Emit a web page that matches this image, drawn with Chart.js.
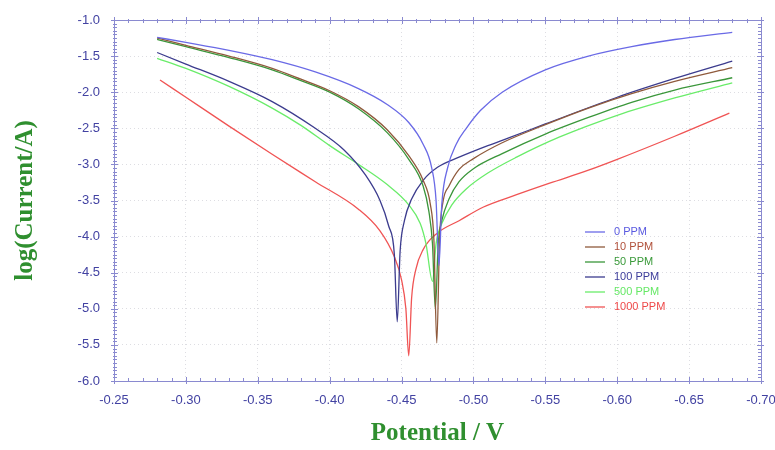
<!DOCTYPE html>
<html><head><meta charset="utf-8">
<script src="https://cdn.jsdelivr.net/npm/chart.js@4/dist/chart.umd.min.js"></script>
<style>html,body{margin:0;padding:0;background:#fff;}</style>
</head><body>
<canvas id="c" width="775" height="450"></canvas>
<script>
// ---- data ----
const seriesLabels = ['0 PPM', '10 PPM', '50 PPM', '100 PPM', '500 PPM', '1000 PPM'];

const potential0 = [-0.28,-0.30,-0.33,-0.36,-0.39,-0.42,-0.44,-0.455,-0.465,-0.471,-0.474,-0.476,-0.478,-0.482,-0.488,-0.495,-0.505,-0.52,-0.55,-0.58,-0.61,-0.64,-0.68];
const logI0     = [-1.24,-1.31,-1.42,-1.55,-1.72,-1.95,-2.17,-2.42,-2.72,-3.05,-3.5,-4.4,-3.55,-3.05,-2.72,-2.5,-2.25,-2.0,-1.69,-1.5,-1.37,-1.27,-1.17];

const potential10 = [-0.28,-0.30,-0.33,-0.36,-0.38,-0.40,-0.42,-0.44,-0.455,-0.465,-0.470,-0.4725,-0.4745,-0.4765,-0.479,-0.483,-0.49,-0.50,-0.52,-0.55,-0.58,-0.61,-0.64,-0.68];
const logI10     = [-1.25,-1.35,-1.50,-1.67,-1.82,-1.98,-2.2,-2.52,-2.88,-3.22,-3.55,-4.05,-5.47,-4.0,-3.5,-3.3,-3.07,-2.92,-2.7,-2.45,-2.22,-2.02,-1.85,-1.66];

const potential50 = [-0.28,-0.30,-0.33,-0.36,-0.38,-0.40,-0.42,-0.44,-0.455,-0.465,-0.469,-0.4715,-0.4735,-0.4755,-0.478,-0.483,-0.49,-0.50,-0.52,-0.55,-0.58,-0.61,-0.64,-0.68];
const logI50     = [-1.27,-1.37,-1.52,-1.69,-1.84,-2.0,-2.23,-2.56,-2.93,-3.3,-3.65,-4.1,-5.0,-4.1,-3.78,-3.48,-3.24,-3.06,-2.85,-2.58,-2.35,-2.14,-1.97,-1.80];

const potential100 = [-0.28,-0.30,-0.33,-0.36,-0.39,-0.41,-0.425,-0.435,-0.441,-0.445,-0.447,-0.449,-0.452,-0.457,-0.465,-0.475,-0.49,-0.51,-0.525,-0.55,-0.60,-0.64,-0.68];
const logI100     = [-1.45,-1.61,-1.85,-2.13,-2.5,-2.8,-3.15,-3.5,-3.85,-4.25,-5.18,-4.2,-3.78,-3.48,-3.22,-3.04,-2.9,-2.74,-2.63,-2.44,-2.07,-1.81,-1.57];

const potential500 = [-0.28,-0.30,-0.33,-0.36,-0.38,-0.40,-0.42,-0.44,-0.455,-0.463,-0.467,-0.4715,-0.474,-0.478,-0.485,-0.495,-0.51,-0.53,-0.56,-0.60,-0.64,-0.68];
const logI500     = [-1.53,-1.67,-1.92,-2.22,-2.46,-2.74,-3.0,-3.28,-3.56,-3.82,-4.1,-4.62,-4.1,-3.82,-3.56,-3.34,-3.12,-2.9,-2.62,-2.32,-2.08,-1.87];

const potential1000 = [-0.282,-0.30,-0.33,-0.36,-0.39,-0.42,-0.435,-0.445,-0.45,-0.453,-0.455,-0.457,-0.46,-0.465,-0.475,-0.49,-0.507,-0.53,-0.553,-0.58,-0.60,-0.64,-0.678];
const logI1000     = [-1.83,-2.07,-2.47,-2.86,-3.24,-3.62,-3.92,-4.28,-4.6,-5.0,-5.65,-4.85,-4.45,-4.18,-3.95,-3.78,-3.59,-3.42,-3.26,-3.08,-2.93,-2.61,-2.29];

const xTickValues = [-0.25,-0.30,-0.35,-0.40,-0.45,-0.50,-0.55,-0.60,-0.65,-0.70];
const yTickValues = [-1.0,-1.5,-2.0,-2.5,-3.0,-3.5,-4.0,-4.5,-5.0,-5.5,-6.0];

// ---- styles ----
const seriesColors = ['#6a6ae6', '#8f5a3c', '#3a963a', '#3c3c8e', '#6aec6a', '#f05454'];
const legendTextColors = ['#5a5ae0', '#b0503a', '#3a9a3a', '#3c3c9a', '#66e866', '#ee4848'];
const axisColor = '#8a8ad0';
const tickColor = '#4242a2';
const titleColor = '#2f8f2f';

const xs = [potential0, potential10, potential50, potential100, potential500, potential1000];
const ys = [logI0, logI10, logI50, logI100, logI500, logI1000];

const datasets = seriesLabels.map((lab, i) => ({
  label: lab,
  data: xs[i].map((v, j) => ({x: v, y: ys[i][j]})),
  borderColor: seriesColors[i],
  backgroundColor: seriesColors[i],
  borderWidth: 1.3,
  pointRadius: 0,
  showLine: true,
  cubicInterpolationMode: 'monotone',
  fill: false
}));

const framePlugin = {
  id: 'frame',
  afterDatasetsDraw(chart) {
    const {ctx, chartArea: a, scales: {x, y}} = chart;
    ctx.save();
    ctx.strokeStyle = axisColor;
    ctx.lineWidth = 1;
    ctx.strokeRect(Math.round(a.left) + 0.5, Math.round(a.top) + 0.5, Math.round(a.right - a.left), Math.round(a.bottom - a.top));
    ctx.beginPath();
    for (let k = 0; k <= 45; k++) {
      const px = Math.round(x.getPixelForValue(-0.25 - k * 0.01)) + 0.5;
      const major = k % 5 === 0;
      const out = major ? 3 : 1, inn = major ? 4 : 3;
      ctx.moveTo(px, a.bottom + out); ctx.lineTo(px, a.bottom - inn);
      ctx.moveTo(px, a.top - out); ctx.lineTo(px, a.top + inn);
    }
    for (let k = 0; k <= 100; k++) {
      const py = Math.round(y.getPixelForValue(-1 - k * 0.05)) + 0.5;
      const major = k % 10 === 0;
      const out = major ? 3 : 1, inn = major ? 4 : 3;
      ctx.moveTo(a.left - out, py); ctx.lineTo(a.left + inn, py);
      ctx.moveTo(a.right + out, py); ctx.lineTo(a.right - inn, py);
    }
    ctx.stroke();
    // legend
    ctx.font = '11px "Liberation Sans", Arial, sans-serif';
    ctx.textBaseline = 'middle';
    ctx.textAlign = 'left';
    chart.data.datasets.forEach((ds, i) => {
      const ly = a.top + 212 + i * 15;
      const lx = a.left + 471;
      ctx.strokeStyle = ds.borderColor;
      ctx.lineWidth = 1.3;
      ctx.beginPath(); ctx.moveTo(lx, ly); ctx.lineTo(lx + 20, ly); ctx.stroke();
      ctx.fillStyle = legendTextColors[i];
      ctx.fillText(ds.label, lx + 29, ly);
    });
    ctx.restore();
  }
};

new Chart(document.getElementById('c'), {
  type: 'scatter',
  data: {datasets},
  options: {
    responsive: false,
    animation: false,
    devicePixelRatio: 1,
    layout: {padding: {top: 20, right: 14, left: 0, bottom: 0}, autoPadding: false},
    plugins: {legend: {display: false}, tooltip: {enabled: false}},
    scales: {
      x: {
        type: 'linear', reverse: true, min: -0.70, max: -0.25,
        afterBuildTicks: s => { s.ticks = xTickValues.map(v => ({value: v})); },
        afterFit: s => { s.height = 69; s.paddingLeft = 0; s.paddingRight = 0; },
        grid: {color: 'rgba(120,120,140,0.25)', drawTicks: false, lineWidth: 1},
        border: {display: false, dash: [1, 3]},
        ticks: {color: tickColor, padding: 12, maxRotation: 0, font: {size: 13, family: '"Liberation Sans", Arial, sans-serif'},
          callback: v => Number(v).toFixed(2)},
        title: {display: true, text: 'Potential / V', color: titleColor, padding: {top: 1, bottom: 1},
          font: {size: 25, weight: 'bold', family: '"Liberation Serif", "Times New Roman", serif'}}
      },
      y: {
        type: 'linear', min: -6.0, max: -1.0,
        afterBuildTicks: s => { s.ticks = yTickValues.map(v => ({value: v})); },
        afterFit: s => { s.width = 114; s.paddingTop = 0; s.paddingBottom = 0; },
        grid: {color: 'rgba(120,120,140,0.25)', drawTicks: false, lineWidth: 1},
        border: {display: false, dash: [1, 3]},
        ticks: {color: tickColor, padding: 14, font: {size: 13, family: '"Liberation Sans", Arial, sans-serif'},
          callback: v => Number(v).toFixed(1)},
        title: {display: true, text: 'log(Current/A)', color: titleColor, padding: {top: 11, bottom: 2},
          font: {size: 25, weight: 'bold', family: '"Liberation Serif", "Times New Roman", serif'}}
      }
    }
  },
  plugins: [framePlugin]
});
</script>
</body></html>
